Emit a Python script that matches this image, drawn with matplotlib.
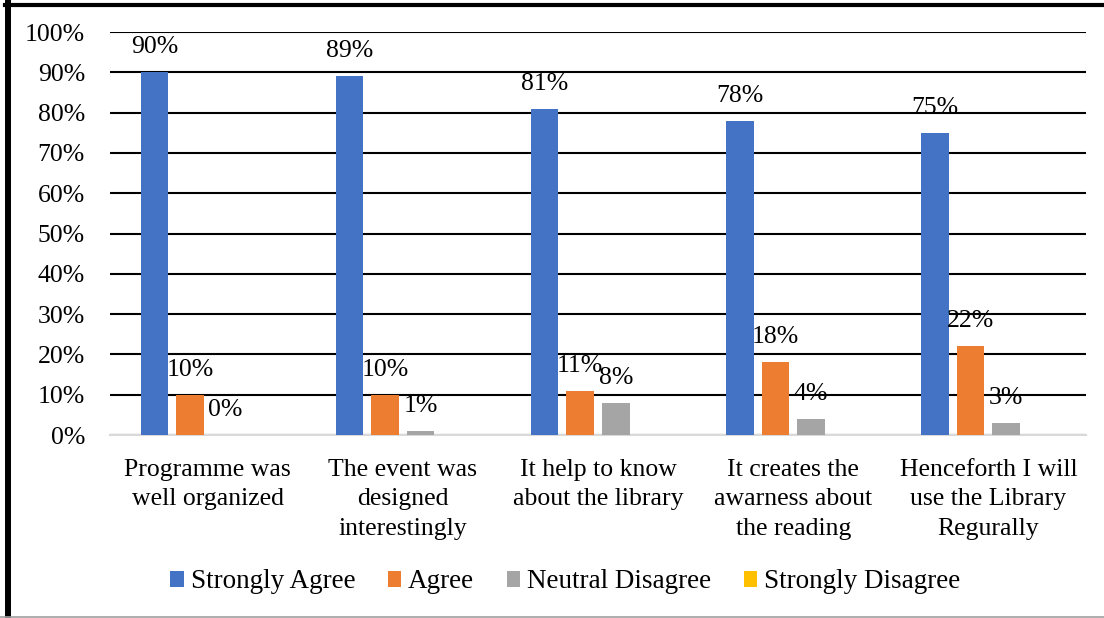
import matplotlib
matplotlib.use("Agg")
import matplotlib.pyplot as plt
from matplotlib.lines import Line2D
import numpy as np

categories = ["Programme was\nwell organized",
              "The event was\ndesigned\ninterestingly",
              "It help to know\nabout the library",
              "It creates the\nawarness about\nthe reading",
              "Henceforth I will\nuse the Library\nRegurally"]
series_names = ["Strongly Agree", "Agree", "Neutral Disagree", "Strongly Disagree"]
strongly_agree = [90, 89, 81, 78, 75]
agree = [10, 10, 11, 18, 22]
neutral = [0, 1, 8, 4, 3]
strongly_disagree = [0, 0, 0, 0, 0]
colors = ["#4472C4", "#ED7D31", "#A5A5A5", "#FFC000"]

plt.rcParams['font.family'] = ['Liberation Serif', 'DejaVu Serif']
plt.rcParams['font.size'] = 18.5

fig = plt.figure(figsize=(11.04, 6.18), dpi=100)
ax = fig.add_axes([0.0996, 0.2961, 0.8841, 0.6521])

x = np.arange(len(categories))
width = 0.141
pitch = 0.182
all_series = [strongly_agree, agree, neutral, strongly_disagree]
for i, (vals, col, name) in enumerate(zip(all_series, colors, series_names)):
    pos = x + (i - 1.5) * pitch
    ax.bar(pos, vals, width, color=col, label=name, zorder=3)
    if i < 3:
        for px, v in zip(pos, vals):
            ax.text(px, v + 6.2, f"{v}%", ha='center', va='center', zorder=4)

ax.set_xlim(-0.5, len(categories) - 0.5)
ax.set_ylim(0, 100)
ax.set_yticks(np.arange(0, 101, 10))
ax.set_yticklabels([f"{t}%" for t in range(0, 101, 10)])
ax.set_xticks(x)
ax.set_xticklabels(categories, linespacing=1.45)
ax.tick_params(axis='both', length=0)
ax.tick_params(axis='y', pad=18)
ax.tick_params(axis='x', pad=17)
ax.grid(axis='y', color='black', linewidth=1.5, zorder=0)
ax.set_axisbelow(True)
for s in ['top', 'right', 'left']:
    ax.spines[s].set_visible(False)
ax.spines['bottom'].set_color('#D9D9D9')
ax.spines['bottom'].set_linewidth(1.5)
ax.spines['bottom'].set_zorder(2)

fig.legend(loc='center', bbox_to_anchor=(0.512, 1 - 582 / 618), ncol=4,
           frameon=False, handlelength=0.5, handleheight=0.5,
           handletextpad=0.25, columnspacing=1.2, fontsize=19.5)

# page frame around the chart
fig.add_artist(Line2D([0.0072, 0.0072], [0, 0.995], transform=fig.transFigure,
                      color='black', linewidth=4.3))
fig.add_artist(Line2D([0.0045, 1], [0.992, 0.992], transform=fig.transFigure,
                      color='black', linewidth=3))
fig.add_artist(Line2D([0, 1], [0.002, 0.002], transform=fig.transFigure,
                      color='#A0A0A0', linewidth=1.2))

fig.savefig("out.png", dpi=100)
